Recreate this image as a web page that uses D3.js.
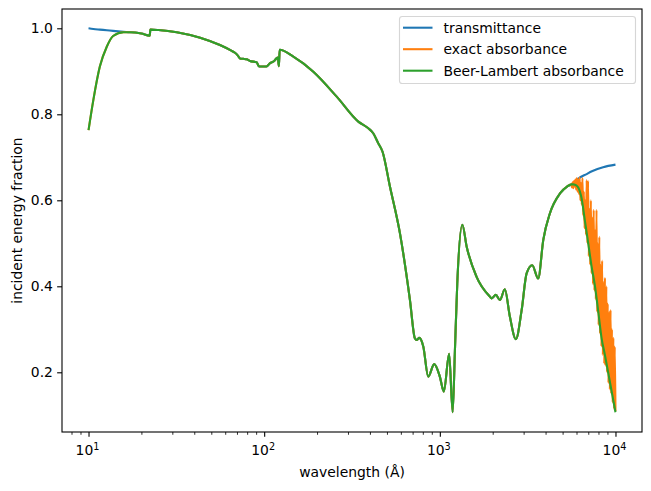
<!DOCTYPE html>
<html>
<head>
<meta charset="utf-8">
<script src="https://cdn.jsdelivr.net/npm/d3@7"></script>
<style>
  html, body { margin: 0; padding: 0; background: #fff; }
  text { font-family: "DejaVu Sans", sans-serif; }
</style>
</head>
<body>
<svg id="chart" width="651" height="491"></svg>
<script>
// ---------------- DATA ----------------
// short-wavelength head (where transmittance and absorbance differ)
const headWl = [10, 10.65, 11.6, 12.7, 13.8, 15.8, 17.2];
const transmittanceHead = [1.0, 0.9985, 0.997, 0.9955, 0.994, 0.992, 0.991];
const absorbanceHead = [0.763, 0.833, 0.911, 0.957, 0.982, 0.991, 0.991];

// region where all three curves coincide
const sharedWl = [20, 22.3, 22.5, 25, 31.8, 43.2, 56, 65, 68.2, 71, 72.8, 76, 79.4, 83, 90.6, 92.5, 94,
  103, 108, 114, 117.5, 119.5, 121.3, 122.5, 146.6, 190.5, 258.8, 343.6, 390, 417.8, 445.7, 472, 520,
  593, 676, 721, 738, 764, 805, 859, 929, 1000, 1054, 1130, 1183, 1219, 1257, 1343, 1422, 1619, 1928,
  1972, 2084, 2198, 2344, 2506, 2710, 2924, 3119, 3357, 3631, 3882, 4236, 4831, 5300, 5623];
const sharedVals = [0.988, 0.983, 0.997, 0.996, 0.991, 0.978, 0.961, 0.948, 0.943, 0.936, 0.930, 0.929, 0.928, 0.924, 0.921, 0.914, 0.911,
  0.911, 0.919, 0.924, 0.930, 0.932, 0.912, 0.950, 0.934, 0.899, 0.841, 0.783, 0.768, 0.756, 0.733, 0.713, 0.632,
  0.523, 0.368, 0.279, 0.275, 0.280, 0.260, 0.190, 0.219, 0.190, 0.155, 0.243, 0.107, 0.252, 0.407, 0.543, 0.492, 0.422, 0.376,
  0.372, 0.380, 0.368, 0.393, 0.329, 0.277, 0.345, 0.430, 0.449, 0.418, 0.508, 0.570, 0.616, 0.632, 0.637];

// long-wavelength tails
const transmittanceTailWl = [5700, 6000, 6138, 6850, 7400, 8500, 10000];
const transmittanceTail = [0.639, 0.646, 0.650, 0.661, 0.668, 0.677, 0.683];

const beerTailWl = [5750, 6012, 6138, 6412, 6699, 6998, 7311, 7638, 7980, 8337, 8710, 9290, 10000];
const beerTail = [0.637, 0.634, 0.630, 0.605, 0.552, 0.500, 0.446, 0.401, 0.341, 0.279, 0.240, 0.178, 0.107];

const exactTailWl = [5649, 5702, 5754, 5808, 5861, 5916, 5970, 6026, 6081, 6138, 6194, 6252, 6310, 6368, 6427, 6486,
  6546, 6607, 6668, 6730, 6792, 6855, 6918, 6982, 7047, 7112, 7178, 7244, 7311, 7379, 7447, 7516, 7586, 7656,
  7727, 7798, 7870, 7943, 8017, 8091, 8166, 8241, 8318, 8395, 8472, 8551, 8630, 8710, 8790, 8872, 8954, 9036,
  9120, 9204, 9290, 9376, 9462, 9550, 9638, 9727, 9817, 9908, 10000];
const exactTail = [0.630, 0.642, 0.628, 0.645, 0.632, 0.648, 0.625, 0.652, 0.620, 0.648, 0.615, 0.653, 0.600, 0.640, 0.590, 0.652,
  0.565, 0.620, 0.535, 0.600, 0.520, 0.647, 0.500, 0.645, 0.470, 0.580, 0.450, 0.600, 0.430, 0.560, 0.405, 0.578, 0.390, 0.530,
  0.370, 0.578, 0.340, 0.500, 0.310, 0.515, 0.290, 0.450, 0.260, 0.460, 0.240, 0.410, 0.220, 0.420, 0.215, 0.400, 0.200, 0.360,
  0.175, 0.340, 0.160, 0.345, 0.150, 0.300, 0.130, 0.280, 0.115, 0.260, 0.110];

const seriesNames = ["transmittance", "exact absorbance", "Beer-Lambert absorbance"];
const seriesColors = ["#1f77b4", "#ff7f0e", "#2ca02c"];
const yTicks = [0.2, 0.4, 0.6, 0.8, 1.0];
const xMajorTicks = [10, 100, 1000, 10000];
const xMajorExponents = ["1", "2", "3", "4"];
const xMinorTicks = [8, 9, 20, 30, 40, 50, 60, 70, 80, 90, 200, 300, 400, 500, 600, 700, 800, 900,
  2000, 3000, 4000, 5000, 6000, 7000, 8000, 9000];

// ---------------- BUILD ----------------
const zip = (w, v) => w.map((d, i) => ({ wl: d, v: v[i] }));
const shared = zip(sharedWl, sharedVals);
const series = [
  zip(headWl, transmittanceHead).concat(shared, zip(transmittanceTailWl, transmittanceTail)),
  zip(headWl, absorbanceHead).concat(shared, zip(exactTailWl, exactTail)),
  zip(headWl, absorbanceHead).concat(shared, zip(beerTailWl, beerTail))
];

const L = 62, R = 642, T = 9, B = 432;
const svg = d3.select("#chart");
const fs = 13.9;
const lw = 2.08;

const x = d3.scaleLog().domain([Math.pow(10, 0.849), Math.pow(10, 4.151)]).range([L, R]);
const y = d3.scaleLinear().domain([1 - (B - 28.3) / 430, 1 + (28.3 - T) / 430]).range([B, T]);

const line = d3.line().x(d => x(d.wl)).y(d => y(d.v)).curve(d3.curveMonotoneX);

const g = svg.append("g");
series.forEach((s, i) => {
  g.append("path").datum(s)
    .attr("d", line)
    .attr("fill", "none")
    .attr("stroke", seriesColors[i])
    .attr("stroke-width", lw)
    .attr("stroke-linejoin", "round")
    .attr("stroke-linecap", "butt");
});

// axes
const yAxis = svg.append("g").attr("transform", `translate(${L},0)`)
  .call(d3.axisLeft(y).tickValues(yTicks).tickSize(4.86).tickPadding(4.2).tickFormat(d3.format(".1f")));
yAxis.select(".domain").remove();
yAxis.selectAll("line").attr("stroke", "#000").attr("stroke-width", 1.1);
yAxis.selectAll("text").attr("font-size", fs).attr("font-family", "DejaVu Sans").attr("fill", "#000");

const xAxis = svg.append("g").attr("transform", `translate(0,${B})`)
  .call(d3.axisBottom(x).tickValues(xMajorTicks).tickSize(4.86).tickFormat(""));
xAxis.select(".domain").remove();
xAxis.selectAll("line").attr("stroke", "#000").attr("stroke-width", 1.1);

const xMinor = svg.append("g").attr("transform", `translate(0,${B})`)
  .call(d3.axisBottom(x).tickValues(xMinorTicks).tickSize(2.78).tickFormat(""));
xMinor.select(".domain").remove();
xMinor.selectAll("line").attr("stroke", "#000").attr("stroke-width", 0.83);

xMajorTicks.forEach((v, i) => {
  const t = svg.append("text").attr("x", x(v) - 1).attr("y", 455)
    .attr("text-anchor", "middle").attr("font-size", fs).attr("fill", "#000");
  t.append("tspan").text("10");
  t.append("tspan").attr("font-size", 9.7).attr("dy", -5.3).text(xMajorExponents[i]);
});

// frame
svg.append("rect").attr("x", L).attr("y", T).attr("width", R - L).attr("height", B - T)
  .attr("fill", "none").attr("stroke", "#000").attr("stroke-width", 1.1);

// axis labels
svg.append("text").attr("x", (L + R) / 2).attr("y", 476.5).attr("text-anchor", "middle")
  .attr("font-size", fs).attr("fill", "#000").text("wavelength (Å)");
svg.append("text").attr("transform", `translate(21.5,${(T + B) / 2}) rotate(-90)`)
  .attr("text-anchor", "middle").attr("font-size", fs).attr("fill", "#000").text("incident energy fraction");

// legend
const lg = svg.append("g");
lg.append("rect").attr("x", 399.5).attr("y", 16.5).attr("width", 236).attr("height", 67).attr("rx", 2.8)
  .attr("fill", "#fff").attr("fill-opacity", 0.8).attr("stroke", "#cccccc").attr("stroke-opacity", 0.8).attr("stroke-width", 1.1);
seriesNames.forEach((n, i) => {
  const yy = 27.7 + i * 21.5;
  lg.append("line").attr("x1", 403).attr("x2", 432.5).attr("y1", yy).attr("y2", yy)
    .attr("stroke", seriesColors[i]).attr("stroke-width", lw);
  lg.append("text").attr("x", 443.5).attr("y", yy + 5).attr("font-size", fs).attr("fill", "#000").text(n);
});
</script>
</body>
</html>
